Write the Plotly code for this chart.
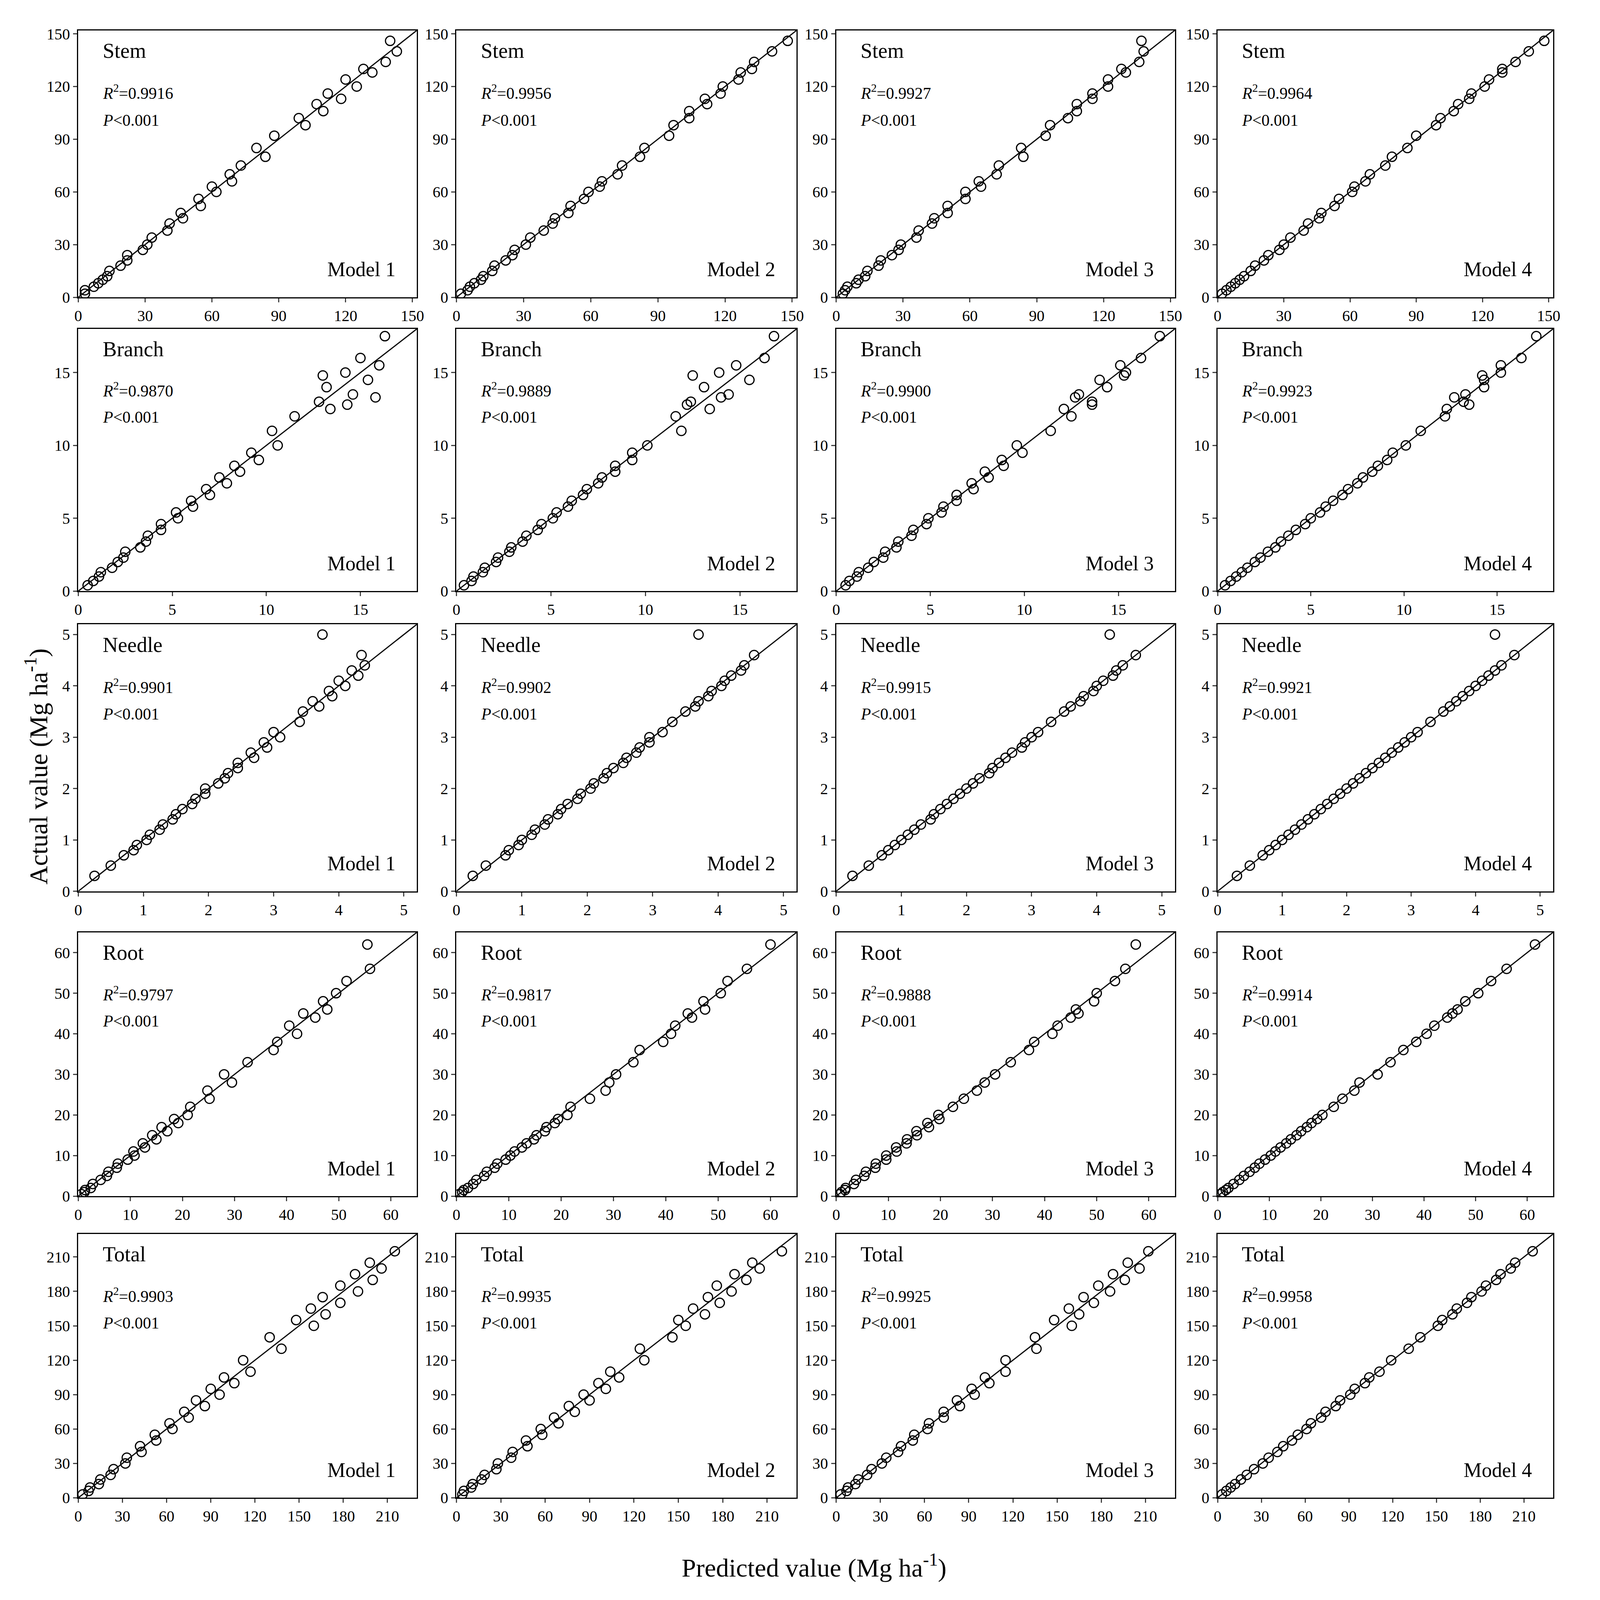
import plotly.graph_objects as go
from plotly.subplots import make_subplots

# actual values per component, predicted values per model
stem_actual = [2,4,6,8,10,12,15,18,21,24,27,30,34,38,42,45,48,52,56,60,63,66,70,75,80,85,92,98,102,106,110,113,116,120,124,128,130,134,140,146]
stem_pred = [
    [3,3,7,9,11,13,14,19,22,22,29,31,33,40,41,47,46,55,54,62,60,69,68,73,84,80,88,102,99,110,107,118,112,125,120,132,128,138,143,140],
    [2,5,6,8,11,12,16,17,22,25,26,31,33,39,43,44,50,51,57,59,64,65,72,74,82,84,95,97,104,104,112,111,118,119,126,127,132,133,141,148],
    [3,4,5,9,10,13,14,19,20,25,28,29,36,37,43,44,50,50,58,58,65,64,72,73,84,83,94,96,104,108,108,115,115,122,122,130,128,136,138,137],
    [2,4,6,8,10,12,15,17,21,23,28,30,33,39,41,46,47,53,55,61,62,67,69,76,79,86,90,99,101,107,109,114,115,121,123,129,129,135,141,148],
]
branch_actual = [0.4,0.7,1.0,1.3,1.6,2.0,2.3,2.7,3.0,3.4,3.8,4.2,4.6,5.0,5.4,5.8,6.2,6.6,7.0,7.4,7.8,8.2,8.6,9.0,9.5,10.0,11.0,12.0,12.5,13.0,13.5,14.0,14.5,15.0,15.5,16.0,12.8,13.3,14.8,17.5]
branch_pred = [
    [0.5,0.8,1.1,1.2,1.8,2.1,2.4,2.5,3.3,3.6,3.7,4.4,4.4,5.3,5.2,6.1,6.0,7.0,6.8,7.9,7.5,8.6,8.3,9.6,9.2,10.6,10.3,11.5,13.4,12.8,14.6,13.2,15.4,14.2,16.0,15.0,14.3,15.8,13.0,16.3],
    [0.4,0.8,0.9,1.4,1.5,2.1,2.2,2.8,2.9,3.5,3.7,4.3,4.5,5.1,5.3,5.9,6.1,6.7,6.9,7.5,7.7,8.4,8.4,9.3,9.3,10.1,11.9,11.6,13.4,12.4,14.4,13.1,15.5,13.9,14.8,16.3,12.2,14.0,12.5,16.8],
    [0.5,0.7,1.1,1.2,1.7,2.0,2.5,2.6,3.2,3.3,4.0,4.1,4.8,4.9,5.6,5.7,6.4,6.4,7.3,7.2,8.1,7.9,8.9,8.8,9.9,9.6,11.4,12.5,12.1,13.6,12.9,14.4,14.0,15.4,15.1,16.2,13.6,12.7,15.3,17.2],
    [0.4,0.7,1.0,1.3,1.6,2.0,2.3,2.7,3.1,3.4,3.8,4.2,4.7,5.0,5.5,5.8,6.2,6.7,7.0,7.5,7.8,8.3,8.6,9.1,9.4,10.1,10.9,12.2,12.3,13.2,13.3,14.3,14.3,15.2,15.2,16.3,13.5,12.7,14.2,17.1],
]
needle_actual = [0.3,0.5,0.7,0.8,0.9,1.0,1.1,1.2,1.3,1.4,1.5,1.6,1.7,1.8,1.9,2.0,2.1,2.2,2.3,2.4,2.5,2.6,2.7,2.8,2.9,3.0,3.1,3.3,3.5,3.6,3.7,3.8,3.9,4.0,4.1,4.2,4.3,4.4,4.6,5.0]
needle_pred = [
    [0.25,0.5,0.7,0.85,0.9,1.05,1.1,1.25,1.3,1.45,1.5,1.6,1.75,1.8,1.95,1.95,2.15,2.25,2.3,2.45,2.45,2.7,2.65,2.9,2.85,3.1,3.0,3.4,3.45,3.7,3.6,3.9,3.85,4.1,4.0,4.3,4.2,4.4,4.35,3.75],
    [0.25,0.45,0.75,0.8,0.95,1.0,1.15,1.2,1.35,1.4,1.55,1.6,1.7,1.85,1.9,2.05,2.1,2.25,2.3,2.4,2.55,2.6,2.75,2.8,2.95,2.95,3.15,3.3,3.5,3.65,3.7,3.85,3.9,4.05,4.1,4.2,4.35,4.4,4.55,3.7],
    [0.25,0.5,0.7,0.8,0.9,1.0,1.1,1.2,1.3,1.45,1.5,1.6,1.7,1.8,1.9,2.0,2.1,2.2,2.35,2.4,2.5,2.6,2.7,2.85,2.9,3.0,3.1,3.3,3.5,3.6,3.75,3.8,3.95,4.0,4.1,4.25,4.3,4.4,4.6,4.2],
    [0.3,0.5,0.7,0.8,0.9,1.0,1.1,1.2,1.3,1.4,1.5,1.6,1.7,1.8,1.9,2.0,2.1,2.2,2.3,2.4,2.5,2.6,2.7,2.8,2.9,3.0,3.1,3.3,3.5,3.6,3.7,3.8,3.9,4.0,4.1,4.2,4.3,4.4,4.6,4.3],
]
root_actual = [0.5,1,1.5,2,3,4,5,6,7,8,9,10,11,12,13,14,15,16,17,18,19,20,22,24,26,28,30,33,36,38,40,42,44,45,46,48,50,53,56,62]
root_pred = [
    [0.6,1.2,1.3,2.4,2.8,4.3,5.5,5.8,7.4,7.6,9.5,10.8,10.6,12.8,12.4,15.0,14.2,17.1,16.0,19.2,18.4,21.0,21.5,25.2,24.8,29.5,28.0,32.5,37.5,38.2,42.0,40.5,45.5,43.2,47.8,47.0,49.5,51.5,56.0,55.5],
    [0.5,1.1,1.4,2.2,3.2,3.8,5.3,5.8,7.3,7.8,9.4,10.3,11.1,12.5,13.4,14.8,15.3,16.9,17.2,18.8,19.4,21.2,21.8,25.5,28.5,29.2,30.5,33.8,35.0,39.5,41.0,41.8,45.0,44.2,47.5,47.2,50.5,51.8,55.5,60.0],
    [0.7,1.0,1.7,1.8,3.4,3.8,5.4,5.7,7.5,7.6,9.6,9.6,11.6,11.5,13.5,13.6,15.5,15.4,17.8,17.5,19.8,19.6,22.4,24.5,27.0,28.5,30.5,33.5,37.0,38.0,41.5,42.5,45.0,46.5,46.0,49.5,50.0,53.5,55.5,57.5],
    [0.5,1.0,1.6,2.1,3.1,4.2,5.1,6.2,7.2,8.1,9.2,10.3,11.2,12.2,13.3,14.2,15.3,16.2,17.3,18.2,19.3,20.3,22.5,24.2,26.5,27.5,31.0,33.5,36.0,38.5,40.5,42.0,44.5,45.5,46.5,48.0,50.5,53.0,56.0,61.5],
]
total_actual = [3,6,9,12,16,20,25,30,35,40,45,50,55,60,65,70,75,80,85,90,95,100,105,110,120,130,140,150,155,160,165,170,175,180,185,190,195,200,205,215]
total_pred = [
    [3,7,8,14,15,22,24,32,33,43,42,53,52,64,62,75,72,86,80,96,90,106,99,117,112,138,130,160,148,168,158,178,166,190,178,200,188,206,198,215],
    [4,5,10,11,17,19,27,28,37,38,48,47,58,57,69,66,80,76,90,86,101,96,110,104,127,124,146,155,150,168,160,178,170,186,176,196,188,205,200,220],
    [3,7,8,13,15,21,24,31,34,42,44,52,53,62,63,73,73,84,82,94,92,104,101,115,115,136,135,160,148,165,158,175,168,186,178,196,188,206,198,212],
    [3,6,9,12,16,20,25,31,35,41,45,51,55,61,64,71,74,81,84,91,94,101,104,111,119,131,139,151,154,161,164,171,174,181,184,191,194,201,204,216],
]

components = ["Stem", "Branch", "Needle", "Root", "Total"]
actuals = [stem_actual, branch_actual, needle_actual, root_actual, total_actual]
preds = [stem_pred, branch_pred, needle_pred, root_pred, total_pred]
r2 = [
    ["0.9916", "0.9956", "0.9927", "0.9964"],
    ["0.9870", "0.9889", "0.9900", "0.9923"],
    ["0.9901", "0.9902", "0.9915", "0.9921"],
    ["0.9797", "0.9817", "0.9888", "0.9914"],
    ["0.9903", "0.9935", "0.9925", "0.9958"],
]
axis_max = [152, 18, 5.2, 65, 230]
tick_step = [30, 5, 1, 10, 30]

col_dom = [[0.045, 0.259], [0.284, 0.499], [0.524, 0.738], [0.765, 0.977]]
row_dom = [[0.817, 0.986], [0.631, 0.797], [0.441, 0.610], [0.248, 0.415], [0.057, 0.224]]

FONT = "Liberation Serif"
fig = make_subplots(rows=5, cols=4)

for r in range(5):
    for c in range(4):
        m = axis_max[r]
        fig.add_trace(go.Scatter(x=[0, m], y=[0, m], mode="lines",
                                 line=dict(color="black", width=3), showlegend=False),
                      row=r + 1, col=c + 1)
        fig.add_trace(go.Scatter(x=preds[r][c], y=actuals[r], mode="markers",
                                 marker=dict(symbol="circle-open", size=24, color="black",
                                             line=dict(width=3)), showlegend=False),
                      row=r + 1, col=c + 1)
        idx = r * 4 + c + 1
        sfx = "" if idx == 1 else str(idx)
        axstyle = dict(range=[0, m], dtick=tick_step[r], tick0=0, showline=True, linecolor="black",
                       linewidth=3, mirror=True, ticks="outside", ticklen=10, tickwidth=3,
                       showgrid=False, zeroline=False,
                       tickfont=dict(family=FONT, size=40, color="black"))
        fig.layout["xaxis" + sfx].update(domain=col_dom[c], **axstyle)
        fig.layout["yaxis" + sfx].update(domain=row_dom[r], **axstyle)
        xref, yref = "x" + sfx + " domain", "y" + sfx + " domain"
        fig.add_annotation(x=0.07, y=0.97, xref=xref, yref=yref, text=components[r],
                           showarrow=False, xanchor="left", yanchor="top",
                           font=dict(family=FONT, size=54, color="black"))
        fig.add_annotation(x=0.07, y=0.81, xref=xref, yref=yref,
                           text="<i>R</i><sup>2</sup>=" + r2[r][c],
                           showarrow=False, xanchor="left", yanchor="top",
                           font=dict(family=FONT, size=42, color="black"))
        fig.add_annotation(x=0.07, y=0.70, xref=xref, yref=yref, text="<i>P</i>&lt;0.001",
                           showarrow=False, xanchor="left", yanchor="top",
                           font=dict(family=FONT, size=42, color="black"))
        fig.add_annotation(x=0.94, y=0.06, xref=xref, yref=yref, text="Model " + str(c + 1),
                           showarrow=False, xanchor="right", yanchor="bottom",
                           font=dict(family=FONT, size=52, color="black"))

fig.add_annotation(x=0.008, y=0.52, xref="paper", yref="paper", textangle=-90,
                   text="Actual value (Mg ha<sup>-1</sup>)", showarrow=False,
                   font=dict(family=FONT, size=66, color="black"))
fig.add_annotation(x=0.51, y=0.003, xref="paper", yref="paper", yanchor="bottom",
                   text="Predicted value (Mg ha<sup>-1</sup>)", showarrow=False,
                   font=dict(family=FONT, size=66, color="black"))

fig.update_layout(autosize=True, margin=dict(l=0, r=0, t=0, b=0),
                  plot_bgcolor="white", paper_bgcolor="white")
fig.write_html("out.html", default_width="100%", default_height="100%",
               config={"responsive": True})
